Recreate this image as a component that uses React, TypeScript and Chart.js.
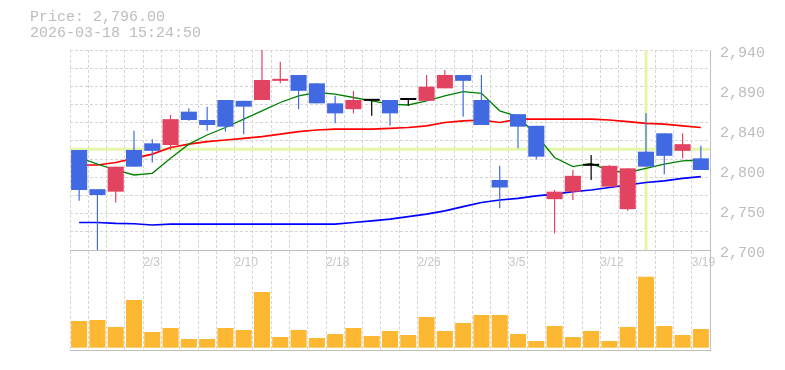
import React, { useEffect, useRef } from "react";
import { Chart, registerables } from "chart.js";

Chart.register(...registerables);

// ---------------- data ----------------
const dates = [
  "1/28", "1/29", "1/30", "2/2", "2/3", "2/4", "2/5", "2/6", "2/9", "2/10",
  "2/12", "2/13", "2/16", "2/17", "2/18", "2/19", "2/20", "2/24", "2/25", "2/26",
  "2/27", "3/2", "3/3", "3/4", "3/5", "3/6", "3/9", "3/10", "3/11", "3/12",
  "3/13", "3/16", "3/17", "3/18", "3/19",
];
const opens = [
  2820, 2773, 2770, 2820, 2828, 2826, 2866, 2856, 2880, 2879,
  2880, 2903, 2910, 2900, 2876, 2869, 2879, 2880, 2880, 2879,
  2894, 2910, 2880, 2784, 2863, 2849, 2761, 2770, 2801, 2776,
  2749, 2818, 2840, 2819, 2810,
];
const highs = [
  2820, 2773, 2800, 2843, 2833, 2862, 2870, 2872, 2880, 2879,
  2940, 2926, 2910, 2900, 2885, 2891, 2879, 2880, 2880, 2910,
  2916, 2910, 2910, 2801, 2863, 2849, 2772, 2796, 2814, 2802,
  2798, 2864, 2840, 2840, 2825,
];
const lows = [
  2759, 2700, 2757, 2800, 2805, 2820, 2855, 2843, 2842, 2839,
  2880, 2900, 2869, 2876, 2852, 2864, 2861, 2849, 2873, 2879,
  2894, 2860, 2850, 2750, 2822, 2809, 2720, 2760, 2784, 2776,
  2747, 2800, 2791, 2810, 2796,
];
const closes = [
  2772, 2766, 2800, 2800, 2819, 2857, 2856, 2850, 2848, 2872,
  2904, 2905, 2891, 2876, 2864, 2880, 2879, 2864, 2880, 2896,
  2910, 2903, 2850, 2775, 2848, 2812, 2770, 2789, 2801, 2801,
  2798, 2800, 2813, 2827, 2796,
];
const volumes = [
  267, 277, 207, 477, 157, 197, 87, 87, 197, 177,
  557, 107, 177, 97, 137, 197, 117, 167, 127, 307,
  167, 247, 327, 327, 137, 67, 217, 107, 167, 67,
  207, 710, 217, 127, 187,
];
const maShort = [
  2811, 2803, 2796, 2790, 2792, 2810, 2827, 2838, 2847, 2857,
  2867, 2877, 2885, 2889, 2887, 2883, 2879, 2875, 2874, 2879,
  2885, 2890, 2888, 2867, 2860, 2838, 2811, 2800, 2804, 2795,
  2793, 2798, 2803, 2807, 2808,
];
const maMid = [
  2802, 2802, 2805, 2810, 2815, 2823, 2827, 2830, 2832, 2834,
  2836, 2839, 2842, 2844, 2845, 2845, 2845, 2846, 2847, 2849,
  2853, 2855, 2856, 2853, 2857, 2857, 2857, 2857, 2857, 2856,
  2854, 2852, 2851, 2849, 2847,
];
const maLong = [
  2733, 2733, 2732, 2731.5, 2730, 2731, 2731, 2731, 2731, 2731,
  2731, 2731, 2731, 2731, 2731, 2733, 2735, 2737, 2740, 2743,
  2747, 2752, 2757, 2760, 2762, 2765, 2767, 2770, 2772, 2775,
  2778, 2781, 2783, 2786, 2788,
];
const xTickLabels = ["2/3", "2/10", "2/18", "2/26", "3/5", "3/12", "3/19"];
const yTickValues = [2700, 2748, 2796, 2844, 2892, 2940];
const yTickLabels = ["2,700", "2,750", "2,800", "2,840", "2,890", "2,940"];
const priceMin = 2700;
const priceMax = 2940;
const gridDivisions = 11;
const volMin = -23;
const volMax = 967;
const crosshairDate = "3/16";
const crosshairPrice = 2821;
const titlePrice = "Price: 2,796.00";
const titleTime = "2026-03-18 15:24:50";

// ---------------- style ----------------
const UP = "rgb(226,67,96)";
const DOWN = "rgb(65,105,225)";
const DOJI = "#000000";
const VOL = "rgb(253,184,51)";
const GRID = "#d6d6d6";
const AXIS = "#bfbfbf";
const CROSS = "rgb(228,246,168)";
const LABEL = "#bdbdbd";
const W = 785;
const H = 370;

export default function App() {
  const priceRef = useRef<HTMLCanvasElement>(null);
  const volRef = useRef<HTMLCanvasElement>(null);

  useEffect(() => {
    const n = dates.length;
    const colorOf = (i: number) =>
      closes[i] > opens[i] ? UP : closes[i] < opens[i] ? DOWN : DOJI;
    const colors = dates.map((_, i) => colorOf(i));
    const gridTicks = (ax: any) => {
      ax.ticks = dates.map((_, i) => ({ value: i })).concat([{ value: n }]);
    };
    const cx = dates.indexOf(crosshairDate) + 0.5;

    const priceChart = new Chart(priceRef.current!, {
      type: "bar",
      data: {
        datasets: [
          {
            type: "bar",
            label: "body",
            data: dates.map((_, i) => ({ x: i + 0.5, y: [opens[i], closes[i]] })) as any,
            backgroundColor: colors,
            grouped: false,
            barPercentage: 0.88,
            categoryPercentage: 1,
            minBarLength: 2,
            inflateAmount: 0,
            borderWidth: 0,
            order: 0,
          } as any,
          {
            type: "bar",
            label: "wick",
            data: dates.map((_, i) => ({ x: i + 0.5, y: [lows[i], highs[i]] })) as any,
            backgroundColor: colors,
            grouped: false,
            maxBarThickness: 1.2,
            inflateAmount: 0,
            borderWidth: 0,
            order: 1,
          } as any,
          {
            type: "line",
            label: "ma-short",
            data: dates.map((_, i) => ({ x: i + 0.5, y: maShort[i] })),
            borderColor: "rgb(0,128,0)",
            borderWidth: 1.3,
            pointRadius: 0,
            tension: 0,
            order: 2,
          },
          {
            type: "line",
            label: "ma-mid",
            data: dates.map((_, i) => ({ x: i + 0.5, y: maMid[i] })),
            borderColor: "rgb(255,0,0)",
            borderWidth: 1.7,
            pointRadius: 0,
            tension: 0,
            order: 2,
          },
          {
            type: "line",
            label: "ma-long",
            data: dates.map((_, i) => ({ x: i + 0.5, y: maLong[i] })),
            borderColor: "rgb(0,0,255)",
            borderWidth: 1.7,
            pointRadius: 0,
            tension: 0,
            order: 2,
          },
          {
            type: "line",
            label: "cross-h",
            data: [
              { x: 0, y: crosshairPrice },
              { x: n, y: crosshairPrice },
            ],
            borderColor: CROSS,
            borderWidth: 3,
            pointRadius: 0,
            order: 5,
          },
          {
            type: "line",
            label: "cross-v",
            data: [
              { x: cx, y: priceMin },
              { x: cx, y: priceMax },
            ],
            borderColor: CROSS,
            borderWidth: 3,
            pointRadius: 0,
            order: 5,
          },
        ],
      },
      options: {
        animation: false,
        responsive: false,
        events: [],
        layout: { padding: { left: 70, top: 50, right: 0, bottom: 100 } },
        plugins: {
          legend: { display: false },
          tooltip: { enabled: false },
          title: { display: false },
        },
        scales: {
          x: {
            type: "linear",
            min: 0,
            max: n,
            offset: false,
            position: "bottom",
            afterBuildTicks: gridTicks,
            afterFit: (ax: any) => {
              ax.height = 20;
            },
            grid: { color: GRID, lineWidth: 1, drawTicks: false, offset: false },
            border: { display: true, color: AXIS, width: 1, dash: [3, 2] },
            ticks: {
              autoSkip: false,
              maxRotation: 0,
              minRotation: 0,
              align: "start",
              padding: 5,
              color: "#c6c6c6",
              font: { family: "'Liberation Sans', Arial, sans-serif", size: 12 },
              callback: (v: any) => {
                const d = dates[Math.round(Number(v))];
                return d && xTickLabels.includes(d) ? d : "";
              },
            },
          },
          y: {
            type: "linear",
            position: "right",
            min: priceMin,
            max: priceMax,
            afterBuildTicks: (ax: any) => {
              ax.ticks = yTickValues.map((v) => ({ value: v }));
            },
            afterFit: (ax: any) => {
              ax.width = W - 710;
            },
            grid: { display: false, drawTicks: false },
            border: { display: true, color: AXIS, width: 1 },
            ticks: {
              padding: 10,
              labelOffset: 3,
              color: LABEL,
              font: { family: "'Liberation Mono', monospace", size: 15 },
              callback: (v: any) => {
                const k = yTickValues.indexOf(Number(v));
                return k >= 0 ? yTickLabels[k] : "";
              },
            },
          },
          yg: {
            type: "linear",
            position: "left",
            min: 0,
            max: gridDivisions,
            afterBuildTicks: (ax: any) => {
              ax.ticks = Array.from({ length: gridDivisions + 1 }, (_, i) => ({ value: i }));
            },
            afterFit: (ax: any) => {
              ax.width = 0;
            },
            grid: { color: GRID, lineWidth: 1, drawTicks: false },
            border: { display: false, dash: [3, 2] },
            ticks: { display: false },
          },
        },
      } as any,
    });

    const volChart = new Chart(volRef.current!, {
      type: "bar",
      data: {
        datasets: [
          {
            label: "volume",
            data: dates.map((_, i) => ({ x: i + 0.5, y: volumes[i] })) as any,
            backgroundColor: VOL,
            grouped: false,
            barPercentage: 0.88,
            categoryPercentage: 1,
            inflateAmount: 0,
            borderWidth: 0,
          } as any,
        ],
      },
      options: {
        animation: false,
        responsive: false,
        events: [],
        layout: { padding: { left: 70, top: 251, right: 0, bottom: 20 } },
        plugins: {
          legend: { display: false },
          tooltip: { enabled: false },
          title: { display: false },
        },
        scales: {
          x: {
            type: "linear",
            min: 0,
            max: n,
            offset: false,
            position: "bottom",
            afterBuildTicks: gridTicks,
            afterFit: (ax: any) => {
              ax.height = 0;
            },
            grid: { color: GRID, lineWidth: 1, drawTicks: false, offset: false },
            border: { display: true, color: AXIS, width: 1, dash: [3, 2] },
            ticks: { display: false, autoSkip: false },
          },
          y: {
            type: "linear",
            position: "right",
            min: volMin,
            max: volMax,
            afterFit: (ax: any) => {
              ax.width = W - 710;
            },
            grid: { display: false, drawTicks: false },
            border: { display: true, color: AXIS, width: 1 },
            ticks: { display: false },
          },
        },
      } as any,
    });

    return () => {
      priceChart.destroy();
      volChart.destroy();
    };
  }, []);

  return (
    <div
      style={{
        position: "fixed",
        left: 0,
        top: 0,
        width: W,
        height: H,
        background: "#ffffff",
        overflow: "hidden",
      }}
    >
      <canvas
        ref={priceRef}
        width={W}
        height={H}
        style={{ position: "absolute", left: 0, top: 0, width: W, height: H }}
      />
      <canvas
        ref={volRef}
        width={W}
        height={H}
        style={{ position: "absolute", left: 0, top: 0, width: W, height: H, pointerEvents: "none" }}
      />
      <div
        style={{
          position: "absolute",
          left: 30,
          top: 10,
          fontFamily: "'Liberation Mono', monospace",
          fontSize: 15,
          lineHeight: "15.5px",
          color: LABEL,
          whiteSpace: "pre",
        }}
      >
        <div>{titlePrice}</div>
        <div>{titleTime}</div>
      </div>
    </div>
  );
}
